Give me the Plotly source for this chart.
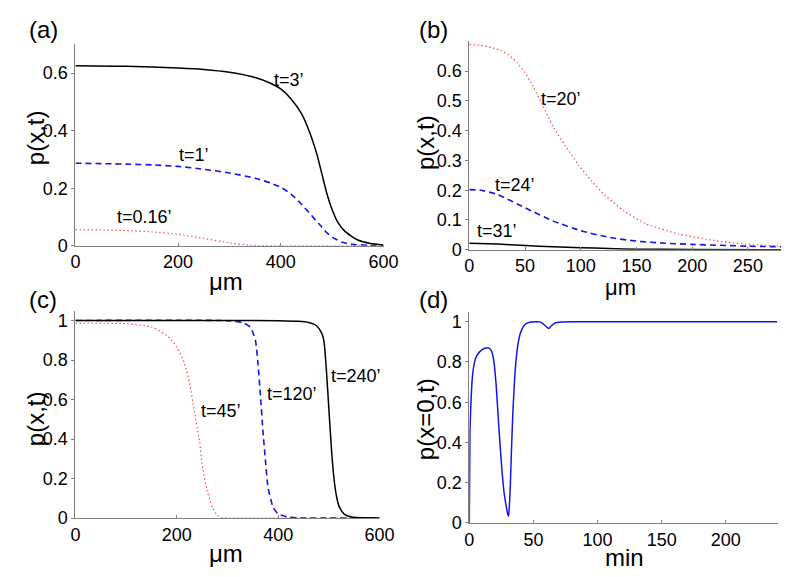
import plotly.graph_objects as go

# ---------------- data ----------------
# Panel (a)
a_x_t3 = [0, 100, 200, 250, 300, 350, 380, 400, 420, 440, 455, 470, 480, 490, 500, 510, 525, 550, 575, 600]
a_y_t3 = [0.626, 0.624, 0.618, 0.613, 0.603, 0.585, 0.565, 0.545, 0.51, 0.46, 0.40, 0.32, 0.25, 0.18, 0.125, 0.085, 0.05, 0.02, 0.008, 0.003]
a_x_t1 = [0, 100, 150, 200, 250, 300, 350, 380, 400, 420, 440, 460, 475, 490, 505, 520, 540, 570, 600]
a_y_t1 = [0.287, 0.284, 0.281, 0.276, 0.266, 0.253, 0.235, 0.218, 0.203, 0.18, 0.145, 0.105, 0.075, 0.045, 0.025, 0.012, 0.005, 0.002, 0.001]
a_x_t016 = [0, 50, 100, 150, 200, 250, 300, 340, 400, 500, 600]
a_y_t016 = [0.056, 0.055, 0.053, 0.048, 0.04, 0.026, 0.01, 0.002, 0.0, 0.0, 0.0]

# Panel (b)
b_x_t20 = [0, 10, 20, 28, 35, 43, 50, 57, 66, 75, 86, 98, 110, 121, 139, 159, 188, 210, 232, 255, 280]
b_y_t20 = [0.69, 0.687, 0.679, 0.67, 0.655, 0.628, 0.595, 0.55, 0.484, 0.415, 0.35, 0.285, 0.23, 0.186, 0.13, 0.086, 0.053, 0.037, 0.025, 0.017, 0.012]
b_x_t24 = [0, 10, 25, 50, 75, 100, 125, 150, 175, 200, 250, 280]
b_y_t24 = [0.202, 0.2, 0.186, 0.141, 0.097, 0.064, 0.042, 0.029, 0.022, 0.018, 0.012, 0.01]
b_x_t31 = [0, 25, 50, 75, 100, 125, 150, 200, 280]
b_y_t31 = [0.022, 0.019, 0.014, 0.01, 0.007, 0.004, 0.002, 0.001, 0.0]

# Panel (c)
c_x_t240 = [0, 300, 400, 440, 460, 475, 485, 490, 495, 500, 505, 510, 515, 520, 530, 545, 570, 600]
c_y_t240 = [1.0, 1.0, 0.999, 0.996, 0.99, 0.975, 0.94, 0.9, 0.75, 0.55, 0.35, 0.2, 0.11, 0.06, 0.02, 0.005, 0.001, 0.0]
c_x_t120 = [0, 300, 330, 345, 355, 360, 365, 370, 375, 380, 390, 400, 420, 450, 600]
c_y_t120 = [1.0, 0.999, 0.99, 0.967, 0.9, 0.784, 0.62, 0.436, 0.287, 0.154, 0.055, 0.02, 0.005, 0.0, 0.0]
c_x_t45 = [0, 100, 150, 180, 200, 215, 225, 235, 245, 250, 260, 270, 280, 290, 300, 600]
c_y_t45 = [0.986, 0.984, 0.967, 0.925, 0.867, 0.784, 0.685, 0.536, 0.386, 0.27, 0.138, 0.055, 0.013, 0.002, 0.0, 0.0]

# Panel (d)
d_t = [0, 0.5, 1, 2, 3, 5, 8, 12, 15, 17, 19, 21, 23, 25, 27, 29, 30, 30.5, 31, 32, 33, 34, 36, 38, 40, 43, 47, 52, 55, 58, 61, 62, 64, 67, 72, 80, 120, 160, 200, 240]
d_p = [0.0, 0.45, 0.55, 0.69, 0.76, 0.82, 0.85, 0.868, 0.87, 0.857, 0.81, 0.68, 0.48, 0.30, 0.156, 0.075, 0.042, 0.034, 0.06, 0.19, 0.385, 0.55, 0.775, 0.89, 0.946, 0.984, 0.997, 1.0, 0.999, 0.987, 0.97, 0.966, 0.98, 0.994, 0.999, 1.0, 1.0, 1.0, 1.0, 1.0]

# Curve labels
a_labels = ["t=3’", "t=1’", "t=0.16’"]
b_labels = ["t=20’", "t=24’", "t=31’"]
c_labels = ["t=240’", "t=120’", "t=45’"]
panel_letters = ["(a)", "(b)", "(c)", "(d)"]

# ---------------- styles ----------------
FONT = "Liberation Sans, Arial, sans-serif"
BLACK = dict(color="black", width=1.5)
BLUE = dict(color="rgb(20,20,235)", width=1.6, dash="6px,4px")
RED = dict(color="rgb(235,80,80)", width=1.2, dash="1.5px,2.5px")

fig = go.Figure()

def add(x, y, line, xa, ya):
    fig.add_trace(go.Scatter(x=x, y=y, mode="lines", line=dict(shape="spline", smoothing=0.6, **line),
                             xaxis=xa, yaxis=ya, showlegend=False, hoverinfo="skip"))

add(a_x_t016, a_y_t016, RED, "x", "y")
add(a_x_t1, a_y_t1, BLUE, "x", "y")
add(a_x_t3, a_y_t3, BLACK, "x", "y")

add(b_x_t20, b_y_t20, RED, "x2", "y2")
add(b_x_t24, b_y_t24, BLUE, "x2", "y2")
add(b_x_t31, b_y_t31, BLACK, "x2", "y2")

add(c_x_t45, c_y_t45, RED, "x3", "y3")
add(c_x_t120, c_y_t120, BLUE, "x3", "y3")
add(c_x_t240, c_y_t240, BLACK, "x3", "y3")

fig.add_trace(go.Scatter(x=d_t, y=d_p, mode="lines", line=dict(color="rgb(20,20,235)", width=1.5, shape="spline", smoothing=0.5),
                         xaxis="x4", yaxis="y4", showlegend=False, hoverinfo="skip"))

axis_common = dict(showline=True, linecolor="#808080", linewidth=1, ticklen=3,
                   tickcolor="#808080", tickwidth=1, showgrid=False, zeroline=False,
                   tickfont=dict(family=FONT, size=18, color="black"))
x_ax = dict(ticks="inside", **axis_common)
y_ax = dict(ticks="outside", **axis_common)

W, H = 800, 577
def dx(p0, p1):
    return [p0 / W, p1 / W]
def dy(top, bottom):
    return [1 - bottom / H, 1 - top / H]

fig.update_layout(
    width=W, height=H, paper_bgcolor="white", plot_bgcolor="white",
    margin=dict(l=0, r=0, t=0, b=0),
    xaxis=dict(domain=dx(64, 380), range=[0, 600], tickvals=[0, 200, 400, 600], anchor="y", **x_ax),
    yaxis=dict(domain=dy(37, 242), range=[0, 0.7], tickvals=[0, 0.2, 0.4, 0.6], anchor="x", **y_ax),
    xaxis2=dict(domain=dx(468, 788), range=[0, 280], tickvals=[0, 50, 100, 150, 200, 250], anchor="y2", **x_ax),
    yaxis2=dict(domain=dy(34, 246), range=[0, 0.7], tickvals=[0, 0.1, 0.2, 0.3, 0.4, 0.5, 0.6], anchor="x2", **y_ax),
    xaxis3=dict(domain=dx(64, 376), range=[0, 600], tickvals=[0, 200, 400, 600], anchor="y3", **x_ax),
    yaxis3=dict(domain=dy(308, 519), range=[0, 1.05], tickvals=[0, 0.2, 0.4, 0.6, 0.8, 1], anchor="x3", **y_ax),
    xaxis4=dict(domain=dx(468, 785), range=[0, 241], tickvals=[0, 50, 100, 150, 200], anchor="y4", **x_ax),
    yaxis4=dict(domain=dy(309, 524), range=[0, 1.05], tickvals=[0, 0.2, 0.4, 0.6, 0.8, 1], anchor="x4", **y_ax),
)

ann = []
def lab(text, x, y, xref, yref, size=18):
    ann.append(dict(text=text, x=x, y=y, xref=xref, yref=yref, showarrow=False,
                    font=dict(family=FONT, size=size, color="black"), xanchor="center", yanchor="middle"))

# curve labels (data coordinates)
for t, (x, y) in zip(a_labels, [(416, 0.577), (230, 0.314), (135, 0.099)]):
    lab(t, x, y, "x", "y")
for t, (x, y) in zip(b_labels, [(82, 0.507), (41, 0.219), (25, 0.063)]):
    lab(t, x, y, "x2", "y2")
for t, (x, y) in zip(c_labels, [(554, 0.718), (427, 0.63), (288, 0.544)]):
    lab(t, x, y, "x3", "y3")

def px(x, y):
    return x / W, 1 - y / H

# panel letters
for t, (x, y) in zip(panel_letters, [(31, 22), (431, 22), (31, 297), (431, 297)]):
    xx, yy = px(x, y)
    lab(t, xx, yy, "paper", "paper", size=24)

# axis titles
for t, (x, y, s) in zip(["μm", "μm", "μm", "min"], [(218, 278, 24), (623, 284, 22), (218, 555, 24), (627, 559, 24)]):
    xx, yy = px(x, y)
    lab(t, xx, yy, "paper", "paper", size=s)
for t, (x, y) in zip(["p(x,t)", "p(x,t)", "p(x,t)", "p(x=0,t)"], [(23, 132), (423, 137), (23, 418), (423, 418)]):
    xx, yy = px(x, y)
    ann.append(dict(text=t, x=xx, y=yy, xref="paper", yref="paper", showarrow=False, textangle=-90,
                    font=dict(family=FONT, size=24, color="black"), xanchor="center", yanchor="middle"))

fig.update_layout(annotations=ann)
fig.write_html("out.html")
